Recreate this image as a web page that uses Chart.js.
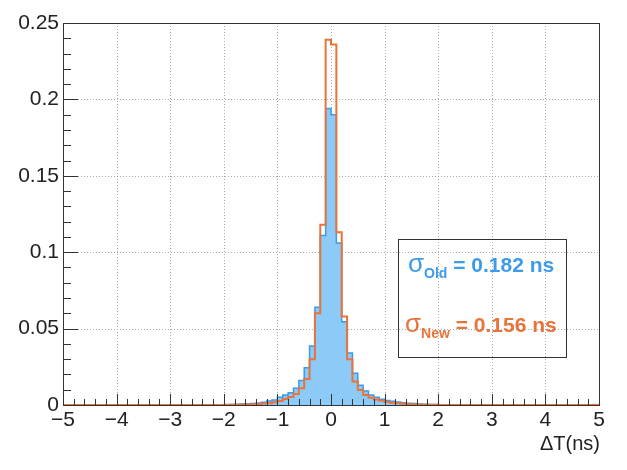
<!DOCTYPE html>
<html>
<head>
<meta charset="utf-8">
<script src="https://cdn.jsdelivr.net/npm/chart.js@4.4.1/dist/chart.umd.min.js"></script>
<style>
  html, body { margin: 0; padding: 0; background: #fff; }
  #wrap { width: 627px; height: 470px; }
</style>
</head>
<body>
<div id="wrap"><canvas id="mycanvas" width="627" height="470"></canvas></div>
<script>
// histogram range: 100 bins of 0.1 ns between -5 and 5
var xMin = -5, xMax = 5, nBins = 100;

// bin contents, lowest bin first (normalised)
var sigmaOld = [
  0, 0, 0, 0, 0, 0, 0, 0, 0, 0,
  0, 0, 0, 0, 0, 0, 0, 0, 0, 0,
  0, 0, 0, 0, 0, 0, 0, 0, 0, 0,
  0.0002, 0.0003, 0.0005, 0.0006, 0.0008, 0.001, 0.0013, 0.0018, 0.0026, 0.0033,
  0.005, 0.0065, 0.008, 0.011, 0.016, 0.0244, 0.0386, 0.064, 0.111, 0.194,
  0.190, 0.106, 0.0545, 0.034, 0.0207, 0.013, 0.0092, 0.0065, 0.005, 0.0037,
  0.003, 0.0024, 0.0019, 0.0015, 0.0012, 0.0009, 0.0007, 0.0005, 0.0004, 0.0003,
  0.0002, 0.0001, 0, 0, 0, 0, 0, 0, 0, 0,
  0, 0, 0, 0, 0, 0, 0, 0, 0, 0,
  0, 0, 0, 0, 0, 0, 0, 0, 0, 0
];
var sigmaNew = [
  0, 0, 0, 0, 0, 0, 0, 0, 0, 0,
  0, 0, 0, 0, 0, 0, 0, 0, 0, 0,
  0, 0, 0, 0, 0, 0, 0, 0, 0, 0,
  0.0001, 0.0001, 0.0002, 0.0003, 0.0004, 0.0005, 0.0007, 0.0009, 0.0012, 0.0018,
  0.0026, 0.004, 0.0052, 0.0072, 0.011, 0.017, 0.030, 0.060, 0.118, 0.239,
  0.236, 0.113, 0.058, 0.030, 0.0153, 0.0098, 0.0065, 0.0048, 0.0036, 0.0028,
  0.002, 0.0015, 0.0011, 0.0008, 0.0006, 0.0004, 0.0003, 0.0002, 0.0001, 0.0001,
  0, 0, 0, 0, 0, 0, 0, 0, 0, 0,
  0, 0, 0, 0, 0, 0, 0, 0, 0, 0,
  0, 0, 0, 0, 0, 0, 0, 0, 0, 0
];

var legendLabels = [
  { sub: 'Old', text: ' = 0.182 ns', color: '#3d9be9' },
  { sub: 'New', text: ' = 0.156 ns', color: '#e8743b' }
];

function toSteps(vals) {
  var pts = [];
  var w = (xMax - xMin) / nBins;
  for (var i = 0; i < vals.length; i++) {
    pts.push({ x: xMin + i * w, y: vals[i] });
  }
  pts.push({ x: xMax, y: vals[vals.length - 1] });
  return pts;
}

var FONT = '"Liberation Sans", Arial, Helvetica, sans-serif';

// ROOT-like dotted grid, frame, inner ticks, stats box and axis title
var rootStyle = {
  id: 'rootStyle',
  beforeDatasetsDraw: function(chart) {
    var ctx = chart.ctx, a = chart.chartArea;
    var xs = chart.scales.x, ys = chart.scales.y;
    ctx.save();
    ctx.strokeStyle = '#a8a8a8';
    ctx.lineWidth = 1;
    ctx.setLineDash([1, 2]);
    xs.ticks.forEach(function(t) {
      var px = Math.round(xs.getPixelForValue(t.value)) + 0.5;
      ctx.beginPath();
      ctx.moveTo(px, a.top);
      ctx.lineTo(px, a.bottom);
      ctx.stroke();
    });
    ys.ticks.forEach(function(t) {
      var py = Math.round(ys.getPixelForValue(t.value)) + 0.5;
      ctx.beginPath();
      ctx.moveTo(a.left, py);
      ctx.lineTo(a.right, py);
      ctx.stroke();
    });
    ctx.restore();
  },
  afterDraw: function(chart) {
    var ctx = chart.ctx, a = chart.chartArea;
    var xs = chart.scales.x, ys = chart.scales.y;
    var v, px, k;
    ctx.save();
    ctx.strokeStyle = '#333';
    ctx.lineWidth = 1;
    // minor / major ticks on x
    for (k = 0; k <= 50; k++) {
      v = xMin + k * 0.2;
      px = Math.round(xs.getPixelForValue(v)) + 0.5;
      var len = (k % 5 === 0) ? 11 : 6;
      ctx.beginPath();
      ctx.moveTo(px, a.bottom);
      ctx.lineTo(px, a.bottom - len);
      ctx.stroke();
    }
    // minor / major ticks on y
    for (k = 0; k <= 25; k++) {
      v = k * 0.01;
      var py = Math.round(ys.getPixelForValue(v)) + 0.5;
      var ylen = (k % 5 === 0) ? 15 : 8;
      ctx.beginPath();
      ctx.moveTo(a.left, py);
      ctx.lineTo(a.left + ylen, py);
      ctx.stroke();
    }
    // frame
    ctx.strokeRect(Math.round(a.left) + 0.5, Math.round(a.top) + 0.5,
                   Math.round(a.right - a.left), Math.round(a.bottom - a.top));

    // stats box
    var w = a.right - a.left, h = a.bottom - a.top;
    var bx = a.left + 0.625 * w, by = a.top + 0.565 * h;
    var bw = 0.313 * w, bh = 0.309 * h;
    ctx.strokeStyle = '#333';
    ctx.strokeRect(Math.round(bx) + 0.5, Math.round(by) + 0.5, Math.round(bw), Math.round(bh));

    legendLabels.forEach(function(l, i) {
      var tx = bx + (i === 0 ? 10 : 7);
      var ty = by + (i === 0 ? 33 : 93);
      ctx.fillStyle = l.color;
      ctx.textBaseline = 'alphabetic';
      ctx.textAlign = 'left';
      ctx.font = '26px ' + FONT;
      ctx.fillText('σ', tx, ty);
      tx += ctx.measureText('σ').width;
      ctx.font = 'bold 14px ' + FONT;
      ctx.fillText(l.sub, tx, ty + 6);
      tx += ctx.measureText(l.sub).width;
      ctx.font = 'bold 21px ' + FONT;
      ctx.fillText(l.text, tx, ty);
    });

    // x axis title
    ctx.fillStyle = '#222';
    ctx.font = '20px ' + FONT;
    ctx.textAlign = 'right';
    ctx.textBaseline = 'middle';
    ctx.fillText('ΔT(ns)', a.right + 1, a.bottom + 39);
    ctx.restore();
  }
};

var ctx = document.getElementById('mycanvas');

var histo = new Chart(ctx, {
  type: 'line',
  data: {
    datasets: [
      {
        label: 'New',
        data: toSteps(sigmaNew),
        stepped: true,
        borderColor: '#e8743b',
        borderWidth: 2,
        pointRadius: 0,
        fill: false,
        order: 0
      },
      {
        label: 'Old',
        data: toSteps(sigmaOld),
        stepped: true,
        borderColor: '#3d9be9',
        backgroundColor: '#8ccaf7',
        borderWidth: 1.5,
        pointRadius: 0,
        fill: 'origin',
        order: 1
      }
    ]
  },
  options: {
    responsive: false,
    animation: false,
    layout: { padding: { top: 23, right: 28, left: 0, bottom: 0 } },
    plugins: {
      legend: { display: false },
      tooltip: { enabled: false }
    },
    scales: {
      x: {
        type: 'linear',
        min: xMin,
        max: xMax,
        afterFit: function(s) { s.height = 65; },
        grid: { drawOnChartArea: false, drawTicks: false },
        border: { display: false },
        ticks: {
          stepSize: 1,
          padding: 3,
          color: '#222',
          font: { family: FONT, size: 21 },
          callback: function(v) { return String(v).replace('-', '\u2212'); }
        }
      },
      y: {
        min: 0,
        max: 0.25,
        afterFit: function(s) { s.width = 63; },
        grid: { drawOnChartArea: false, drawTicks: false },
        border: { display: false },
        ticks: {
          stepSize: 0.05,
          padding: 4,
          color: '#222',
          font: { family: FONT, size: 21 },
          callback: function(v) { return String(parseFloat(v.toFixed(2))); }
        }
      }
    }
  },
  plugins: [rootStyle]
});
</script>
</body>
</html>
